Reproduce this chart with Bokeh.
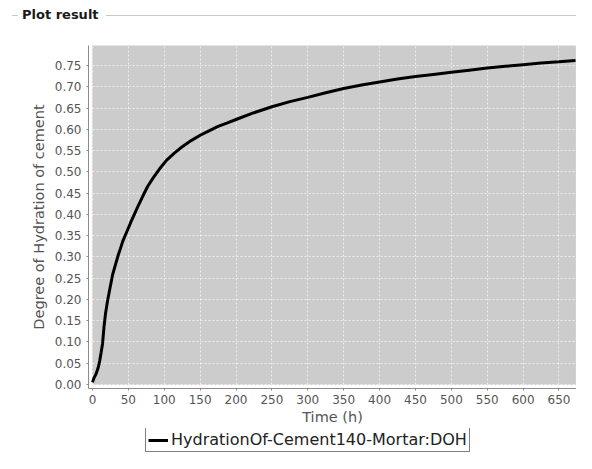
from bokeh.plotting import figure
from bokeh.layouts import column
from bokeh.models import (Range1d, FixedTicker, BoxAnnotation, Legend,
                          LegendItem, PrintfTickFormatter, Div)
from bokeh.embed import file_html
from bokeh.resources import INLINE

# ---- data ----
time_h = [0, 2, 5, 8, 10, 12, 14, 16, 18, 21, 25, 28, 32, 36, 39, 42, 46, 50,
          54, 58, 62, 66, 71, 77, 85, 93, 103, 114, 125, 138, 150, 163, 175,
          188, 200, 225, 250, 275, 300, 325, 350, 375, 400, 425, 450, 475,
          500, 525, 550, 575, 600, 625, 650, 673]
doh = [0.005, 0.015, 0.025, 0.040, 0.055, 0.075, 0.096, 0.135, 0.165, 0.197,
       0.232, 0.258, 0.282, 0.305, 0.320, 0.336, 0.352, 0.368, 0.384, 0.399,
       0.414, 0.428, 0.446, 0.466, 0.487, 0.506, 0.527, 0.544, 0.559, 0.574,
       0.586, 0.597, 0.607, 0.615, 0.623, 0.639, 0.653, 0.665, 0.675, 0.686,
       0.696, 0.704, 0.711, 0.718, 0.724, 0.729, 0.734, 0.739, 0.744, 0.748,
       0.752, 0.756, 0.759, 0.762]
x_ticks = list(range(0, 651, 50))
y_ticks = [round(0.05 * i, 2) for i in range(16)]
series_name = "HydrationOf-Cement140-Mortar:DOH"
panel_title = "Plot result"
x_label = "Time (h)"
y_label = "Degree of Hydration of cement"

X_MAX = 673.0
Y_MAX = 0.797
W = 576
HEAD_H = 22
FOOT_H = 25
H = 453 - HEAD_H - FOOT_H
ML, MR, MT, MB = 88, 0, 23, 40
frame_w = W - ML - MR
frame_h = H - MT - MB
gap = 4
x_per_px = X_MAX / (frame_w - gap - 1)
y_per_px = Y_MAX / (frame_h - gap)

FONT = "DejaVu Sans"
GREY_TXT = "#555555"

# ---- header: titled border "- Plot result -----" ----
head_html = (
    '<div style="position:relative;width:%dpx;height:%dpx;'
    'font-family:\'DejaVu Sans\',sans-serif;">'
    '<div style="position:absolute;left:12px;top:15px;width:6px;'
    'border-top:1px solid #c8c8c8;"></div>'
    '<div style="position:absolute;left:22px;top:6px;font-size:13px;'
    'line-height:17px;font-weight:bold;color:#1a1a1a;white-space:nowrap;">'
    '%s</div>'
    '<div style="position:absolute;left:106px;top:15px;width:%dpx;'
    'border-top:1px solid #c8c8c8;"></div></div>'
) % (W, HEAD_H, panel_title, W - 106)
head = Div(text=head_html, width=W, height=HEAD_H, margin=0)

# ---- main chart ----
p = figure(width=W, height=H, output_backend="svg", toolbar_location=None,
           x_range=Range1d(-gap * x_per_px, X_MAX + x_per_px),
           y_range=Range1d(-gap * y_per_px, Y_MAX),
           min_border_left=ML, min_border_right=MR, min_border_top=MT,
           min_border_bottom=MB)
p.outline_line_color = None
p.background_fill_color = "white"
p.border_fill_color = "white"

p.add_layout(BoxAnnotation(left=0, right=X_MAX, bottom=0, top=Y_MAX,
                           fill_color="#cccccc", fill_alpha=1.0,
                           line_color="#a0a0a0", line_width=1, level="image"))

for ax in (p.xaxis[0], p.yaxis[0]):
    ax.axis_line_color = "#8c8c8c"
    ax.major_tick_line_color = "#8c8c8c"
    ax.major_tick_out = 2
    ax.major_tick_in = 0
    ax.minor_tick_line_color = None
    ax.major_label_text_font = FONT
    ax.major_label_text_font_size = "12px"
    ax.major_label_text_color = GREY_TXT
    ax.axis_label_text_font = FONT
    ax.axis_label_text_font_size = "14.5px"
    ax.axis_label_text_color = GREY_TXT
    ax.axis_label_text_font_style = "normal"
p.xaxis.major_label_standoff = 4
p.xaxis.axis_label_standoff = 2
p.yaxis.major_label_standoff = 5
p.yaxis.axis_label_standoff = 5

p.xaxis.ticker = FixedTicker(ticks=x_ticks)
p.yaxis.ticker = FixedTicker(ticks=y_ticks)
p.yaxis.formatter = PrintfTickFormatter(format="%.2f")
p.xaxis.axis_label = x_label
p.yaxis.axis_label = y_label

for g in (p.xgrid[0], p.ygrid[0]):
    g.grid_line_color = "white"
    g.grid_line_alpha = 0.65
    g.grid_line_dash = "2 2"
    g.grid_line_width = 1

line = p.line(time_h, doh, line_color="black", line_width=3)

# ---- footer with the legend ----
foot = figure(width=W, height=FOOT_H, output_backend="svg",
              toolbar_location=None, x_range=Range1d(0, 1),
              y_range=Range1d(0, 1), min_border_left=ML,
              min_border_right=MR, min_border_top=0, min_border_bottom=0,
              x_axis_location=None, y_axis_location=None)
foot.grid.visible = False
foot.outline_line_color = None
key = foot.line(x=[-5, -4], y=[-5, -4], line_color="black", line_width=3)
legend = Legend(items=[LegendItem(label=series_name, renderers=[key])],
                location=(145 - ML, 1), orientation="horizontal",
                border_line_color="black", border_line_width=1,
                padding=2, margin=0, glyph_width=20, glyph_height=18,
                label_standoff=3, label_height=18, label_text_font=FONT,
                label_text_font_size="16px", label_text_color="#222222",
                background_fill_alpha=1.0)
foot.add_layout(legend)

layout = column(head, p, foot, spacing=0)
open("out.html", "w").write(file_html(layout, INLINE))
